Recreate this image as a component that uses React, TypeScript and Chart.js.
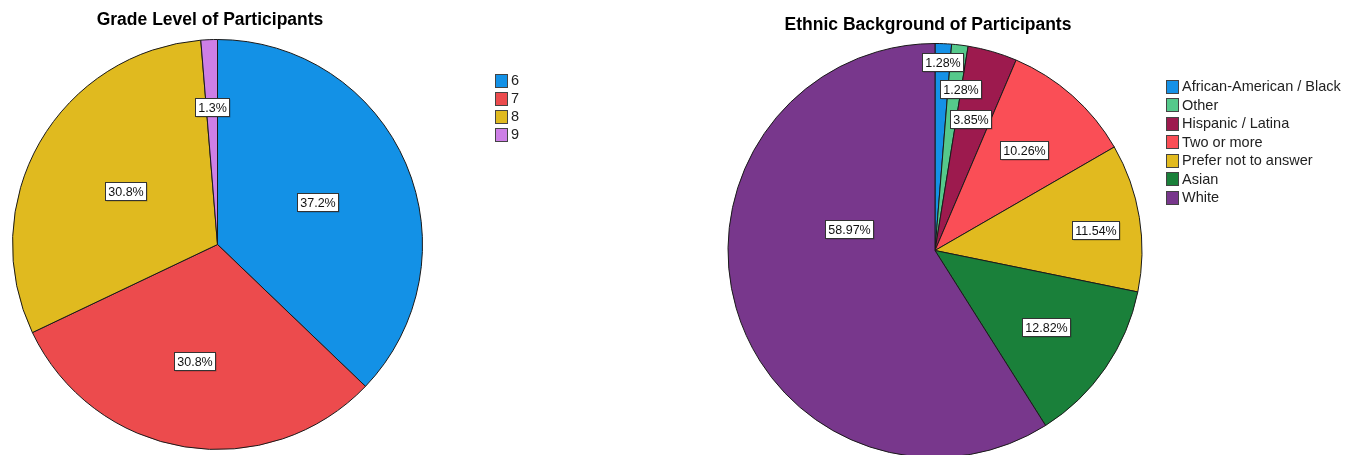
import React, { useEffect, useRef } from 'react';
import { Chart, registerables } from 'chart.js';

Chart.register(...registerables);

// ---- Data ----
const gradeTitle = 'Grade Level of Participants';
const gradeCategories = ['6', '7', '8', '9'];
const gradePercents = [37.2, 30.8, 30.8, 1.3];
const gradeValueLabels = ['37.2%', '30.8%', '30.8%', '1.3%'];

const ethnicTitle = 'Ethnic Background of Participants';
const ethnicCategories = [
  'African-American / Black',
  'Other',
  'Hispanic / Latina',
  'Two or more',
  'Prefer not to answer',
  'Asian',
  'White',
];
const ethnicPercents = [1.28, 1.28, 3.85, 10.26, 11.54, 12.82, 58.97];
const ethnicValueLabels = ['1.28%', '1.28%', '3.85%', '10.26%', '11.54%', '12.82%', '58.97%'];

// ---- Styles ----
const gradeColors = ['#1391E6', '#EC4B4D', '#E0BA1F', '#CD7FE6'];
const ethnicColors = ['#1591E6', '#55C98B', '#9D1A4E', '#FA4E56', '#E1BA1F', '#1A803A', '#78378C'];
// label placement: fraction of radius, angular shift in degrees (clockwise)
const gradeLabelRadius = [0.53, 0.58, 0.52, 0.67];
const gradeLabelShift = [0, 2, 0, 0];
const ethnicLabelRadius = [0.91, 0.79, 0.66, 0.65, 0.78, 0.65, 0.43];
const ethnicLabelShift = [0, 2, -1, 0, 2, 0, 30];

const FONT = "'Liberation Sans', Arial, Helvetica, sans-serif";

type PanelCfg = {
  title: string;
  titleX: number;
  titleY: number;
  categories: string[];
  values: number[];
  valueLabels: string[];
  colors: string[];
  labelRadius: number[];
  labelShift: number[];
  legendX: number;
  legendY: number;
  legendStep: number;
  padding: { left: number; right: number; top: number; bottom: number };
};

function makePlugin(cfg: PanelCfg) {
  return {
    id: 'panelDecor',
    afterDraw(chart: any) {
      const ctx = chart.ctx as CanvasRenderingContext2D;
      ctx.save();
      // title
      ctx.fillStyle = '#000';
      ctx.font = `bold 17.5px ${FONT}`;
      ctx.textAlign = 'center';
      ctx.textBaseline = 'middle';
      ctx.fillText(cfg.title, cfg.titleX, cfg.titleY);

      // value labels
      const meta = chart.getDatasetMeta(0);
      ctx.font = `12.5px ${FONT}`;
      meta.data.forEach((arc: any, i: number) => {
        const p = arc.getProps(['x', 'y', 'startAngle', 'endAngle', 'outerRadius'], true);
        const mid = (p.startAngle + p.endAngle) / 2 + (cfg.labelShift[i] * Math.PI) / 180;
        const r = p.outerRadius * cfg.labelRadius[i];
        const x = p.x + Math.cos(mid) * r;
        const y = p.y + Math.sin(mid) * r;
        const text = cfg.valueLabels[i];
        const w = Math.round(ctx.measureText(text).width + 6);
        const h = 18;
        const bx = Math.round(x - w / 2) + 0.5;
        const by = Math.round(y - h / 2) + 0.5;
        ctx.fillStyle = 'rgba(0,0,0,0.25)';
        ctx.fillRect(bx + 1, by + 1, w, h);
        ctx.fillStyle = '#fff';
        ctx.fillRect(bx, by, w, h);
        ctx.strokeStyle = '#333';
        ctx.lineWidth = 1;
        ctx.strokeRect(bx, by, w, h);
        ctx.fillStyle = '#111';
        ctx.textAlign = 'center';
        ctx.textBaseline = 'middle';
        ctx.fillText(text, bx + w / 2, by + h / 2 + 1);
      });

      // legend
      ctx.font = `14.5px ${FONT}`;
      ctx.textAlign = 'left';
      ctx.textBaseline = 'middle';
      cfg.categories.forEach((c, i) => {
        const cy = cfg.legendY + i * cfg.legendStep;
        const bx = cfg.legendX + 0.5;
        const by = Math.round(cy - 6.5) + 0.5;
        ctx.fillStyle = cfg.colors[i];
        ctx.fillRect(bx, by, 12, 13);
        ctx.strokeStyle = '#444';
        ctx.lineWidth = 1;
        ctx.strokeRect(bx, by, 12, 13);
        ctx.fillStyle = '#222';
        ctx.fillText(c, cfg.legendX + 16, cy + 1);
      });
      ctx.restore();
    },
  };
}

function PiePanel({ cfg, left, width }: { cfg: PanelCfg; left: number; width: number }) {
  const ref = useRef<HTMLCanvasElement | null>(null);
  useEffect(() => {
    if (!ref.current) return;
    const chart = new Chart(ref.current, {
      type: 'pie',
      data: {
        labels: cfg.categories,
        datasets: [
          {
            data: cfg.values,
            backgroundColor: cfg.colors,
            borderColor: '#1a1a1a',
            borderWidth: 1,
          },
        ],
      },
      options: {
        responsive: false,
        animation: false,
        layout: { padding: cfg.padding },
        plugins: {
          legend: { display: false },
          title: { display: false },
          tooltip: { enabled: false },
        },
      },
      plugins: [makePlugin(cfg)],
    } as any);
    return () => chart.destroy();
  }, [cfg]);
  return (
    <canvas
      ref={ref}
      width={width}
      height={460}
      style={{ position: 'absolute', left, top: 0, width, height: 460 }}
    />
  );
}

const gradeCfg: PanelCfg = {
  title: gradeTitle,
  titleX: 210,
  titleY: 20,
  categories: gradeCategories,
  values: gradePercents,
  valueLabels: gradeValueLabels,
  colors: gradeColors,
  labelRadius: gradeLabelRadius,
  labelShift: gradeLabelShift,
  legendX: 495,
  legendY: 80,
  legendStep: 18,
  padding: { left: 12, right: 250, top: 39, bottom: 10 },
};

const ethnicCfg: PanelCfg = {
  title: ethnicTitle,
  titleX: 255,
  titleY: 25,
  categories: ethnicCategories,
  values: ethnicPercents,
  valueLabels: ethnicValueLabels,
  colors: ethnicColors,
  labelRadius: ethnicLabelRadius,
  labelShift: ethnicLabelShift,
  legendX: 493,
  legendY: 86,
  legendStep: 18.5,
  padding: { left: 54, right: 204, top: 43, bottom: 2 },
};

export default function App() {
  useEffect(() => {
    document.body.style.margin = '0';
    document.body.style.background = '#fff';
  }, []);
  return (
    <div style={{ position: 'relative', width: 1347, height: 455, overflow: 'hidden', background: '#fff' }}>
      <PiePanel cfg={gradeCfg} left={0} width={673} />
      <PiePanel cfg={ethnicCfg} left={673} width={674} />
    </div>
  );
}
